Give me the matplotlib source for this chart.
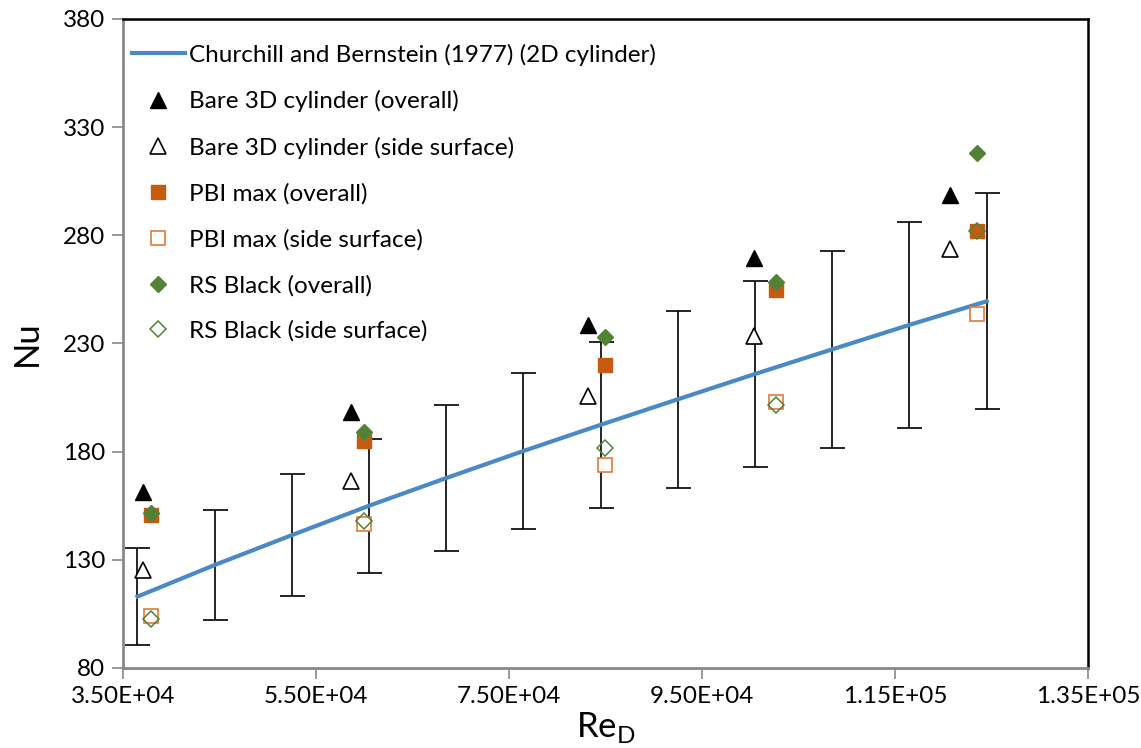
import matplotlib
matplotlib.use("Agg")
import matplotlib.pyplot as plt
import numpy as np

plt.rcParams['font.family'] = ['Lato', 'DejaVu Sans']

# Churchill and Bernstein (1977) curve, read at the error-bar positions
re_cb = [36500, 44500, 52500, 60500, 68500, 76500, 84500, 92500, 100500, 108500, 116500, 124500]
nu_cb = [113.0, 127.6, 141.4, 155.0, 167.8, 180.3, 192.4, 204.2, 215.9, 227.3, 238.6, 249.5]
err_frac = 0.2  # +/- 20 % bars

# measured points
re_tri = [37100, 58600, 83200, 100400, 120700]
re_sq = [37900, 60000, 84900, 102700, 123500]

bare_overall = [161.5, 198.5, 238.5, 269.5, 298.5]
bare_side = [125.5, 166.5, 205.5, 233.5, 273.5]
pbi_overall = [150.5, 185.0, 220.0, 254.5, 282.0]
pbi_side = [104.0, 146.5, 174.0, 203.0, 243.5]
rs_overall = [151.8, 189.0, 232.8, 258.5, 318.0]
rs_side = [102.8, 148.0, 181.8, 201.5, 282.0]

xticks = np.arange(35000, 135001, 20000)
xtick_labels = ["3.50E+04", "5.50E+04", "7.50E+04", "9.50E+04", "1.15E+05", "1.35E+05"]
yticks = np.arange(80, 381, 50)

blue = '#4A89C6'
orange = '#C55A11'
orange_lt = '#E2793A'
green = '#548235'

fig = plt.figure(figsize=(11.41, 7.48), dpi=100)
ax = fig.add_axes([0.1078, 0.107, 0.8457, 0.8676])

# line with +/-20 % error bars
nu_cb_arr = np.array(nu_cb)
ax.errorbar(re_cb, nu_cb, yerr=err_frac * nu_cb_arr, fmt='none', ecolor='black',
            elinewidth=1.2, capsize=9, capthick=1.2, zorder=2)
ax.plot(re_cb, nu_cb, color=blue, linewidth=3, zorder=3,
        label='Churchill and Bernstein (1977) (2D cylinder)')

ax.plot(re_tri, bare_overall, linestyle='none', marker='^', markersize=11,
        color='black', zorder=4, label='Bare 3D cylinder (overall)')
ax.plot(re_tri, bare_side, linestyle='none', marker='^', markersize=11,
        markerfacecolor='white', markeredgecolor='black', markeredgewidth=1.2,
        zorder=4, label='Bare 3D cylinder (side surface)')
ax.plot(re_sq, pbi_overall, linestyle='none', marker='s', markersize=10,
        color=orange, zorder=4, label='PBI max (overall)')
ax.plot(re_sq, pbi_side, linestyle='none', marker='s', markersize=10,
        markerfacecolor='white', markeredgecolor=orange_lt, markeredgewidth=1.2,
        zorder=4, label='PBI max (side surface)')
ax.plot(re_sq, rs_overall, linestyle='none', marker='D', markersize=8,
        color=green, zorder=5, label='RS Black (overall)')
ax.plot(re_sq, rs_side, linestyle='none', marker='D', markersize=8,
        markerfacecolor='none', markeredgecolor=green, markeredgewidth=1.1,
        zorder=5, label='RS Black (side surface)')

ax.set_xlim(35000, 135000)
ax.set_ylim(80, 380)
ax.set_xticks(xticks)
ax.set_xticklabels(xtick_labels)
ax.set_yticks(yticks)

ax.tick_params(axis='both', labelsize=17.5, length=8, width=1.2, color='#888888',
               direction='out')
ax.tick_params(axis='x', pad=5)
ax.tick_params(axis='y', pad=5)

for side in ['left', 'bottom']:
    ax.spines[side].set_color('#888888')
    ax.spines[side].set_linewidth(2)
for side in ['top', 'right']:
    ax.spines[side].set_color('black')
    ax.spines[side].set_linewidth(1.8)

ax.set_xlabel('Re$_\\mathregular{D}$', fontsize=25, labelpad=2)
ax.set_ylabel('Nu', fontsize=25, labelpad=14)

ax.legend(loc='upper left', bbox_to_anchor=(0.0, 0.975), frameon=False,
          fontsize=17.5, handlelength=2.2, handletextpad=0.15, labelspacing=1.0,
          borderaxespad=0.2, borderpad=0.15)

fig.savefig('out.png', dpi=100)
